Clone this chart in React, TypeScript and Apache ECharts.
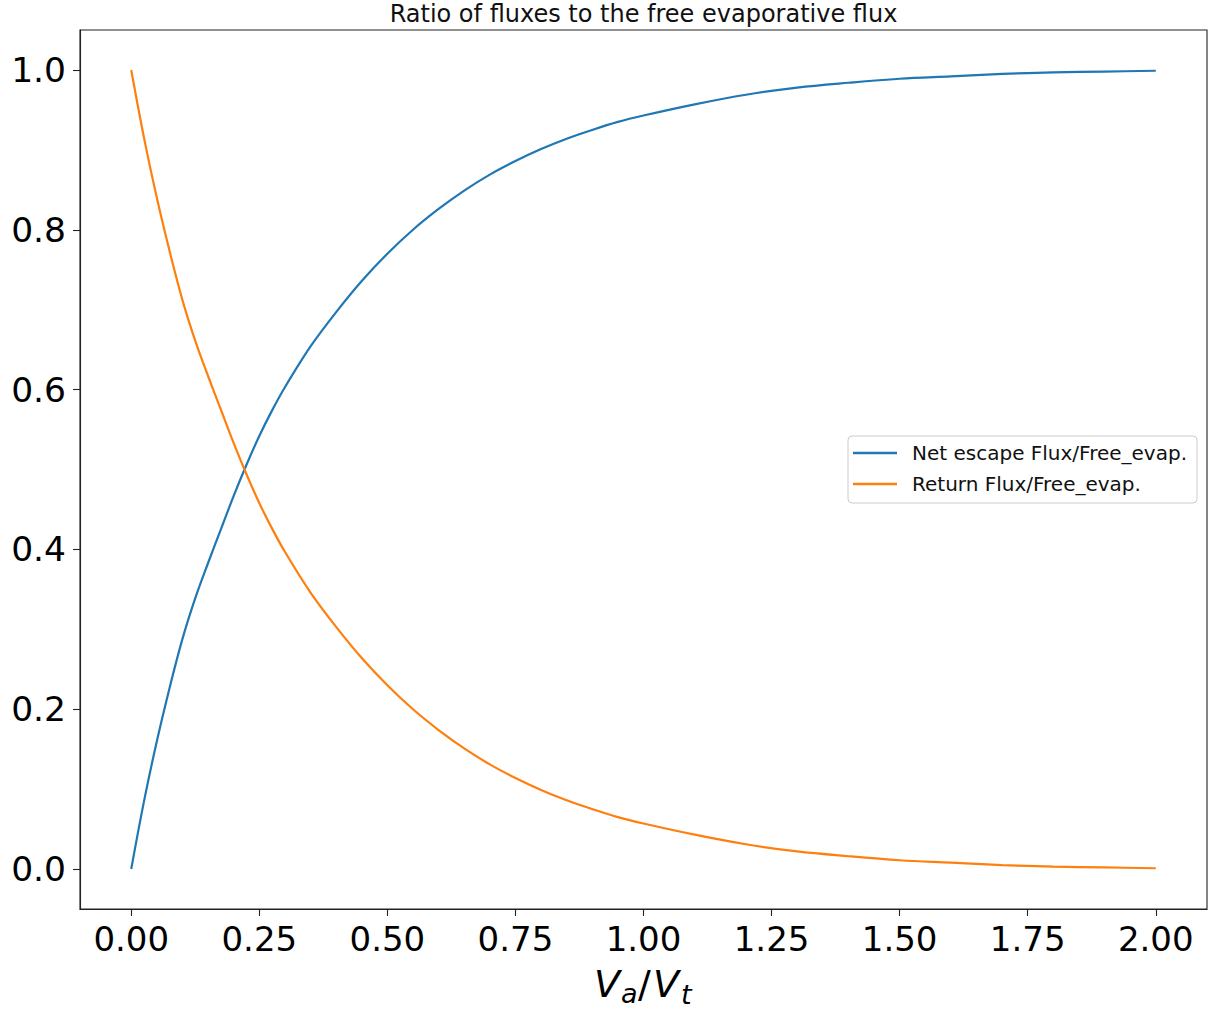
import React, { useEffect, useRef } from "react";
import * as echarts from "echarts";

const xValues = [0, 0.025, 0.05, 0.075, 0.1, 0.125, 0.15, 0.175, 0.2, 0.225, 0.25, 0.275, 0.3, 0.35, 0.4, 0.45, 0.5, 0.55, 0.6, 0.65, 0.7, 0.75, 0.8, 0.85, 0.9, 0.95, 1.0, 1.1, 1.2, 1.3, 1.4, 1.5, 1.6, 1.7, 1.8, 1.9, 2.0];
const netEscape = [0, 0.085, 0.16, 0.227, 0.288, 0.339, 0.383, 0.425, 0.467, 0.506, 0.542, 0.574, 0.603, 0.654, 0.697, 0.736, 0.77, 0.8, 0.826, 0.849, 0.869, 0.886, 0.901, 0.914, 0.925, 0.935, 0.943, 0.957, 0.969, 0.978, 0.984, 0.989, 0.992, 0.995, 0.997, 0.998, 0.999];
const returnFlux = [1, 0.915, 0.84, 0.773, 0.712, 0.661, 0.617, 0.575, 0.533, 0.494, 0.458, 0.426, 0.397, 0.346, 0.303, 0.264, 0.23, 0.2, 0.174, 0.151, 0.131, 0.114, 0.099, 0.086, 0.075, 0.065, 0.057, 0.043, 0.031, 0.022, 0.016, 0.011, 0.008, 0.005, 0.003, 0.002, 0.001];

const xTicks = [0, 0.25, 0.5, 0.75, 1.0, 1.25, 1.5, 1.75, 2.0];
const yTicks = [0, 0.2, 0.4, 0.6, 0.8, 1.0];
const seriesNames = ["Net escape Flux/Free_evap.", "Return Flux/Free_evap."];
const chartTitle = "Ratio of fluxes to the free evaporative flux";

const FONT = '"DejaVu Sans", "Noto Sans", sans-serif';

export default function App() {
  const ref = useRef<HTMLDivElement>(null);
  useEffect(() => {
    if (!ref.current) return;
    const chart = echarts.init(ref.current, null, { renderer: "svg" });
    const axisLineStyle = { color: "#222", width: 1.1 };
    const mk = (vals: number[]) => xValues.map((x, i) => [x, vals[i]]);
    chart.setOption({
      animation: false,
      backgroundColor: "#fff",
      grid: {
        left: 80,
        top: 30,
        width: 1127,
        height: 879,
        show: true,
        borderColor: "#222",
        borderWidth: 1.1,
        backgroundColor: "transparent",
      },
      xAxis: {
        type: "value",
        min: -0.1,
        max: 2.1,
        splitLine: { show: false },
        axisLine: { show: true, onZero: false, lineStyle: axisLineStyle },
        axisTick: { show: true, length: 7, lineStyle: axisLineStyle, customValues: xTicks },
        axisLabel: {
          customValues: xTicks,
          formatter: (v: number) => v.toFixed(2),
          fontSize: 34,
          lineHeight: 34,
          fontFamily: FONT,
          color: "#000",
          margin: 13,
        },
      },
      yAxis: {
        type: "value",
        min: -0.05,
        max: 1.05,
        splitLine: { show: false },
        axisLine: { show: true, onZero: false, lineStyle: axisLineStyle },
        axisTick: { show: true, length: 7, lineStyle: axisLineStyle, customValues: yTicks },
        axisLabel: {
          customValues: yTicks,
          formatter: (v: number) => v.toFixed(1),
          fontSize: 34.5,
          lineHeight: 34,
          fontFamily: FONT,
          color: "#000",
          margin: 14,
        },
      },
      legend: {
        orient: "vertical",
        left: 848,
        top: 436,
        padding: [7, 10, 9, 5],
        itemGap: 11,
        itemWidth: 44,
        itemHeight: 2.6,
        icon: "rect",
        backgroundColor: "rgba(255,255,255,0.8)",
        borderColor: "#cccccc",
        borderWidth: 1,
        borderRadius: 4,
        textStyle: { fontFamily: FONT, fontSize: 20, color: "#111", lineHeight: 20, padding: [0, 0, 0, 10] },
        data: seriesNames,
      },
      series: [
        {
          name: seriesNames[0],
          type: "line",
          data: mk(netEscape),
          showSymbol: false,
          symbol: "none",
          smooth: 0.35,
          lineStyle: { color: "#1f77b4", width: 2.2 },
          itemStyle: { color: "#1f77b4" },
        },
        {
          name: seriesNames[1],
          type: "line",
          data: mk(returnFlux),
          showSymbol: false,
          symbol: "none",
          smooth: 0.35,
          lineStyle: { color: "#ff7f0e", width: 2.2 },
          itemStyle: { color: "#ff7f0e" },
        },
      ],
      graphic: [
        {
          type: "text",
          x: 643.5,
          y: 13.5,
          style: { text: chartTitle, font: `24px ${FONT}`, fill: "#111", align: "center", verticalAlign: "middle" },
        },
        { type: "text", x: 594, y: 984, style: { text: "V", font: `italic 38px ${FONT}`, fill: "#000", align: "left", verticalAlign: "middle" } },
        { type: "text", x: 621, y: 993, style: { text: "a", font: `italic 27px ${FONT}`, fill: "#000", align: "left", verticalAlign: "middle" } },
        { type: "text", x: 638, y: 984, style: { text: "/", font: `38px ${FONT}`, fill: "#000", align: "left", verticalAlign: "middle" } },
        { type: "text", x: 653, y: 984, style: { text: "V", font: `italic 38px ${FONT}`, fill: "#000", align: "left", verticalAlign: "middle" } },
        { type: "text", x: 681, y: 994, style: { text: "t", font: `italic 27px ${FONT}`, fill: "#000", align: "left", verticalAlign: "middle" } },
      ],
    });
    return () => chart.dispose();
  }, []);
  return <div ref={ref} style={{ position: "fixed", left: 0, top: 0, width: 1216, height: 1012 }} />;
}
